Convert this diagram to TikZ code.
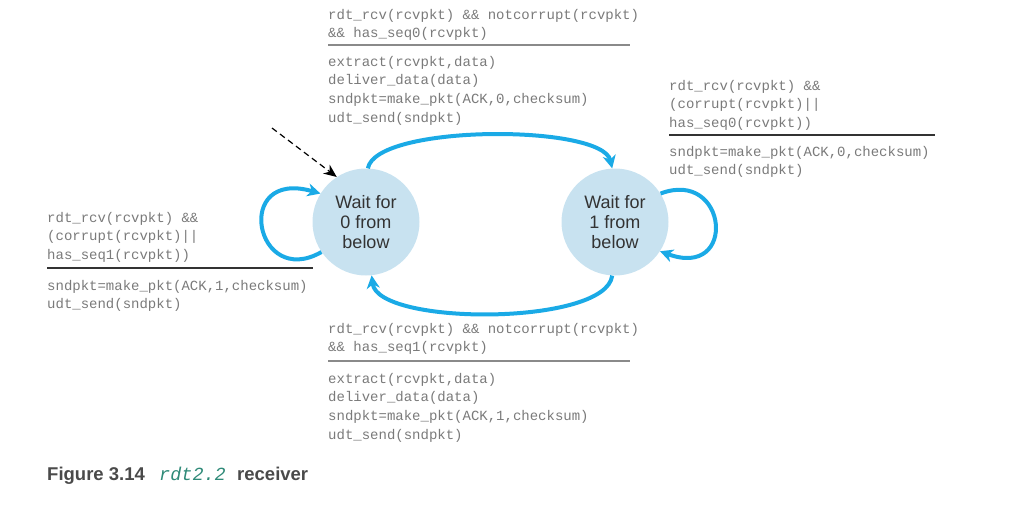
\documentclass[tikz,border=0pt]{standalone}
\usepackage{fontspec}
\setmainfont{Liberation Sans}
\setmonofont{Liberation Mono}
\usetikzlibrary{arrows.meta}
\definecolor{stfill}{HTML}{C8E2F0}
\definecolor{cyanarr}{HTML}{1AAAE6}
\definecolor{codegray}{HTML}{7A7A7A}
\definecolor{capgray}{HTML}{4A4A4A}
\definecolor{capteal}{HTML}{2F8A78}
\definecolor{rulegray}{HTML}{8A8A8A}
\begin{document}
\begin{tikzpicture}[x=1pt,y=-1pt,
  state/.style={circle,fill=stfill,minimum size=107pt,inner sep=0pt,align=center,
    font=\fontsize{18}{20}\selectfont,text=black!80},
  code/.style={anchor=base west,inner sep=0pt,text=codegray,
    font=\ttfamily\fontsize{14}{18.7}\selectfont},
  trans/.style={draw=cyanarr,line width=4pt,-{Stealth[length=13pt,width=13pt,inset=4pt]}},
  rulel/.style={line width=1.3pt},
  captxt/.style={anchor=base west,inner sep=0pt,text=capgray,font=\bfseries\fontsize{18.5}{22}\selectfont}
]
\useasboundingbox (0,0) rectangle (1013,512);

% states
\node[state] (s0) at (366,222) {Wait for\\0 from\\below};
\node[state] (s1) at (615,222) {Wait for\\1 from\\below};

% initial dashed arrow
\coordinate (init) at (272,128);
\draw[line width=1.2pt,dash pattern=on 6pt off 4pt,-{Stealth[length=13pt,width=11pt]}] (init) -- (s0.123);

% transitions
\draw[trans] (s0.88) .. controls (376,124) and (602,124) .. (s1.93);
\draw[trans] (s1.267) .. controls (606,326) and (378,326) .. (s0.276);
\draw[trans] (s0.214) .. controls (255,290) and (232,168) .. (s0.148);
\draw[trans] (s1.32) .. controls (728,168) and (738,280) .. (s1.327);

% top label
\node[code] (g1) at (328,19) {\vtop{\hbox{rdt\_rcv(rcvpkt) \&\& notcorrupt(rcvpkt)}\hbox{\&\& has\_seq0(rcvpkt)}}};
\coordinate (r1a) at (328,45); \coordinate (r1b) at (630,45);
\draw[rulel,draw=rulegray] (r1a) -- (r1b);
\node[code] (a1) at (328,66) {\vtop{\hbox{extract(rcvpkt,data)}\hbox{deliver\_data(data)}\hbox{sndpkt=make\_pkt(ACK,0,checksum)}\hbox{udt\_send(sndpkt)}}};

% right label
\node[code] (g2) at (669,90) {\vtop{\hbox{rdt\_rcv(rcvpkt) \&\&}\hbox{(corrupt(rcvpkt)||}\hbox{has\_seq0(rcvpkt))}}};
\coordinate (r2a) at (669,135); \coordinate (r2b) at (935,135);
\draw[rulel,draw=black!80] (r2a) -- (r2b);
\node[code] (a2) at (669,156) {\vtop{\hbox{sndpkt=make\_pkt(ACK,0,checksum)}\hbox{udt\_send(sndpkt)}}};

% left label
\node[code] (g3) at (47,222) {\vtop{\hbox{rdt\_rcv(rcvpkt) \&\&}\hbox{(corrupt(rcvpkt)||}\hbox{has\_seq1(rcvpkt))}}};
\coordinate (r3a) at (47,268); \coordinate (r3b) at (313,268);
\draw[rulel,draw=black!80] (r3a) -- (r3b);
\node[code] (a3) at (47,290) {\vtop{\hbox{sndpkt=make\_pkt(ACK,1,checksum)}\hbox{udt\_send(sndpkt)}}};

% bottom label
\node[code] (g4) at (328,333) {\vtop{\hbox{rdt\_rcv(rcvpkt) \&\& notcorrupt(rcvpkt)}\hbox{\&\& has\_seq1(rcvpkt)}}};
\coordinate (r4a) at (328,361); \coordinate (r4b) at (630,361);
\draw[rulel,draw=rulegray] (r4a) -- (r4b);
\node[code] (a4) at (328,383) {\vtop{\hbox{extract(rcvpkt,data)}\hbox{deliver\_data(data)}\hbox{sndpkt=make\_pkt(ACK,1,checksum)}\hbox{udt\_send(sndpkt)}}};

% caption
\node[captxt] (cap1) at (47,480) {Figure 3.14};
\node[anchor=base west,inner sep=0pt,text=capteal,font=\ttfamily\itshape\fontsize{18.5}{22}\selectfont] (cap2) at (159,480) {rdt2.2};
\node[captxt] (cap3) at (237,480) {receiver};
\end{tikzpicture}
\end{document}
